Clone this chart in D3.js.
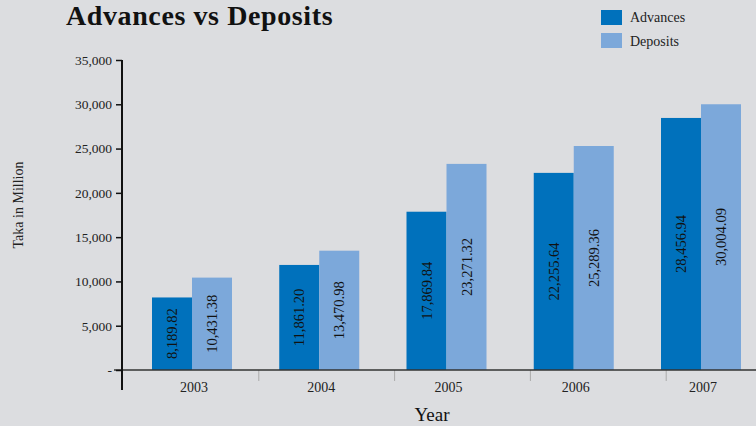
<!DOCTYPE html>
<html><head><meta charset="utf-8">
<script src="https://cdn.jsdelivr.net/npm/d3@7"></script>
<style>body{margin:0;background:#dcdde0;} svg{display:block;}</style>
</head><body>
<svg id="c" width="756" height="426"></svg>
<script>
const years = ["2003","2004","2005","2006","2007"];
const advances = [8189.82, 11861.20, 17869.84, 22255.64, 28456.94];
const deposits = [10431.38, 13470.98, 23271.32, 25289.36, 30004.09];
const seriesNames = ["Advances","Deposits"];
const colors = ["#0071bc","#7ca8da"];
const yTicks = [0,5000,10000,15000,20000,25000,30000,35000];

const svg = d3.select("#c");
svg.append("rect").attr("width",756).attr("height",426).attr("fill","#dcdde0");
const font = "'Liberation Serif','DejaVu Serif',serif";

const y = d3.scaleLinear().domain([0,35000]).range([370,60]);
const xc = d3.scalePoint().domain(years).range([192,701]);
const xs = d3.scaleBand().domain(seriesNames).range([-40,40]);
const xSep = d3.scaleBand().domain(years).range([123,802]);

// separators
svg.append("g").selectAll("line").data(years.slice(1)).join("line")
  .attr("x1",d=>xSep(d)).attr("x2",d=>xSep(d)).attr("y1",370).attr("y2",381)
  .attr("stroke","#aaa").attr("stroke-width",1);

const data = years.map((yr,i)=>({yr, vals:[advances[i],deposits[i]]}));
const g = svg.append("g");
data.forEach(d=>{
  d.vals.forEach((v,j)=>{
    const x0 = xc(d.yr)+xs(seriesNames[j]);
    g.append("rect").attr("x",x0).attr("y",y(v)).attr("width",xs.bandwidth())
      .attr("height",y(0)-y(v)).attr("fill",colors[j]);
    const cx = x0+xs.bandwidth()/2, cy=(y(v)+y(0))/2;
    g.append("text").attr("transform",`translate(${cx+5},${cy}) rotate(-90)`)
      .attr("text-anchor","middle").attr("font-family",font).attr("font-size",14.5)
      .attr("fill","#111").text(d3.format(",.2f")(v));
  });
});

// baseline
svg.append("line").attr("x1",114).attr("x2",756).attr("y1",370).attr("y2",370)
  .attr("stroke","#333").attr("stroke-width",1.5);
// y axis
const ya = svg.append("g").attr("transform","translate(122,0)")
  .call(d3.axisLeft(y).tickValues(yTicks).tickSize(6).tickPadding(4)
    .tickFormat(d=> d===0 ? "-" : d3.format(",")(d)));
ya.select(".domain").remove();
ya.selectAll(".tick line").attr("stroke","#111").attr("stroke-width",1.5);
ya.selectAll(".tick text").attr("font-family",font).attr("font-size",13.5).attr("fill","#222");
svg.append("line").attr("x1",122).attr("x2",122).attr("y1",60).attr("y2",390)
  .attr("stroke","#111").attr("stroke-width",2);

// x labels
svg.append("g").selectAll("text").data(years).join("text")
  .attr("x",d=>xc(d)+2).attr("y",392).attr("text-anchor","middle")
  .attr("font-family",font).attr("font-size",14).attr("fill","#222").text(d=>d);

// titles
svg.append("text").attr("x",66).attr("y",25).attr("font-family",font)
  .attr("font-weight","bold").attr("font-size",28).attr("letter-spacing",0.6)
  .attr("fill","#111").text("Advances vs Deposits");
svg.append("text").attr("x",432).attr("y",421).attr("text-anchor","middle").attr("font-family",font)
  .attr("font-size",19).attr("fill","#111").text("Year");
svg.append("text").attr("transform","translate(23,205) rotate(-90)").attr("text-anchor","middle")
  .attr("font-family",font).attr("font-size",14).attr("fill","#222").text("Taka in Million");

// legend
const lg = svg.append("g");
seriesNames.forEach((n,i)=>{
  lg.append("rect").attr("x",601).attr("y",10+i*23).attr("width",21).attr("height",15).attr("fill",colors[i]);
  lg.append("text").attr("x",630).attr("y",22+i*24).attr("font-family",font).attr("font-size",14)
    .attr("fill","#222").text(n);
});
</script>
</body></html>
